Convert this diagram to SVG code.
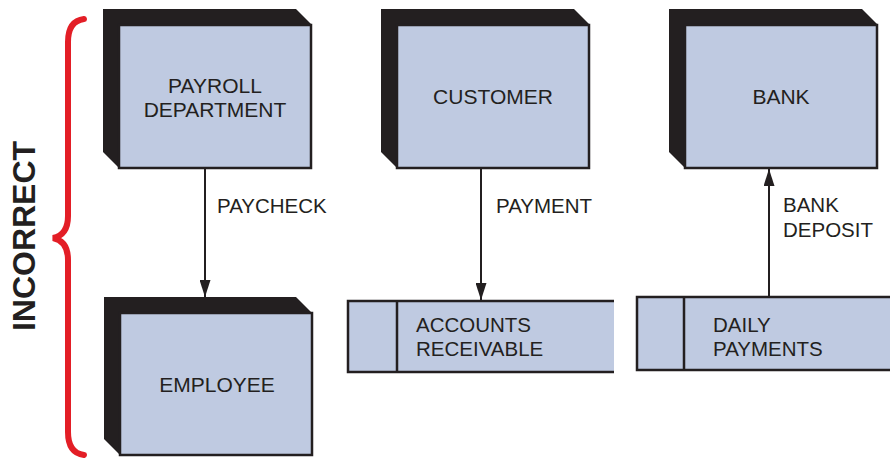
<svg xmlns="http://www.w3.org/2000/svg" width="890" height="458" viewBox="0 0 890 458">
<style>
.shadow{fill:#231f20}
.face{fill:#bfcae1;stroke:#231f20;stroke-width:2.5}
.store{fill:#bfcae1}
.line{stroke:#231f20;stroke-width:2.5;fill:none}
.t{font-family:"Liberation Sans",Arial,sans-serif;font-size:21px;fill:#231f20;text-anchor:middle}
.lbl{font-family:"Liberation Sans",Arial,sans-serif;font-size:20.5px;fill:#231f20}
.conn{stroke:#231f20;stroke-width:2;fill:none;marker-end:url(#ah)}
</style>
<defs>
<marker id="ah" viewBox="0 0 17 11" refX="17" refY="5.5" markerWidth="17" markerHeight="11" markerUnits="userSpaceOnUse" orient="auto">
<path d="M0,0 L17,5.5 L0,11 Z" fill="#231f20"/>
</marker>
</defs>
<rect width="890" height="458" fill="#ffffff"/>
<g id="incorrect">
<path d="M84,19 Q68,21 68,42 L68,216 Q68,235 53,238 Q68,241 68,260 L68,432 Q68,453 84,455" fill="none" stroke="#e31e26" stroke-width="6" stroke-linecap="round"/>
<text transform="translate(35,236) rotate(-90)" font-family="Liberation Sans,Arial,sans-serif" font-size="32" font-weight="bold" fill="#231f20" text-anchor="middle">INCORRECT</text>
</g>
<g id="payroll">
<polygon class="shadow" points="103,9 296,9 312,25 119,25 119,168 103,152"/>
<rect class="face" x="119" y="25" width="192" height="143"/>
<text class="t" x="215" y="93">PAYROLL</text>
<text class="t" x="215" y="117">DEPARTMENT</text>
</g>
<g id="customer">
<polygon class="shadow" points="381,9 574,9 590,25 397,25 397,168 381,152"/>
<rect class="face" x="397" y="25" width="192" height="143"/>
<text class="t" x="493" y="104">CUSTOMER</text>
</g>
<g id="bank">
<polygon class="shadow" points="669,9 862,9 878,25 685,25 685,168 669,152"/>
<rect class="face" x="685" y="25" width="192" height="143"/>
<text class="t" x="781" y="104">BANK</text>
</g>
<g id="employee">
<polygon class="shadow" points="104,297 296,297 312,313 120,313 120,455 104,439"/>
<rect class="face" x="120" y="313" width="192" height="142"/>
<text class="t" x="217" y="392">EMPLOYEE</text>
</g>
<g id="accounts">
<rect class="store" x="348" y="301" width="266" height="71"/>
<path class="line" d="M614,301 L348,301 L348,372 L614,372 M397,301 L397,372"/>
<text class="lbl" x="416" y="332" font-size="21">ACCOUNTS</text>
<text class="lbl" x="416" y="356" font-size="21">RECEIVABLE</text>
</g>
<g id="daily">
<rect class="store" x="637" y="297" width="253" height="73"/>
<path class="line" d="M890,297 L637,297 L637,370 L890,370 M684,297 L684,370"/>
<text class="lbl" x="713" y="332" font-size="21">DAILY</text>
<text class="lbl" x="713" y="356" font-size="21">PAYMENTS</text>
</g>
<g id="connectors">
<line class="conn" x1="205" y1="169" x2="205" y2="297"/>
<line class="conn" x1="481" y1="169" x2="481" y2="300"/>
<line class="conn" x1="769" y1="296" x2="769" y2="169"/>
<text class="lbl" x="217" y="213">PAYCHECK</text>
<text class="lbl" x="496" y="213">PAYMENT</text>
<text class="lbl" x="783" y="212">BANK</text>
<text class="lbl" x="783" y="237">DEPOSIT</text>
</g>
</svg>
